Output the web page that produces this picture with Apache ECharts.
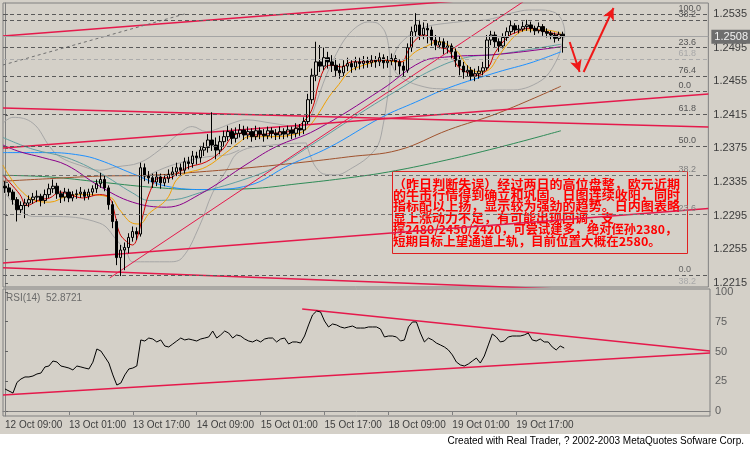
<!DOCTYPE html>
<html><head><meta charset="utf-8">
<script src="https://cdn.jsdelivr.net/npm/echarts@6/dist/echarts.min.js"></script>
<style>html,body{margin:0;padding:0;background:#fff}#c{width:750px;height:450px}</style>
</head><body><div id="c"></div>
<script>
// ---------------- data ----------------
const timeLabels = ['12 Oct 09:00','13 Oct 01:00','13 Oct 17:00','14 Oct 09:00','15 Oct 01:00','15 Oct 17:00','18 Oct 09:00','19 Oct 01:00','19 Oct 17:00'];
const labelStep = 16;
const totalBars = 177;

const opens = [1.2330,1.2328,1.2323,1.2314,1.2302,1.2307,1.2310,1.2314,1.2317,1.2318,
1.2313,1.2320,1.2327,1.2330,1.2321,1.2317,1.2323,1.2316,1.2320,1.2321,
1.2323,1.2318,1.2323,1.2327,1.2333,1.2338,1.2328,1.2308,1.2288,1.2245,
1.2254,1.2257,1.2269,1.2276,1.2273,1.2352,1.2342,1.2340,1.2335,1.2341,
1.2334,1.2339,1.2344,1.2347,1.2352,1.2349,1.2359,1.2357,1.2366,1.2364,
1.2373,1.2376,1.2385,1.2379,1.2373,1.2383,1.2389,1.2395,1.2387,1.2393,
1.2397,1.2391,1.2395,1.2389,1.2396,1.2392,1.2390,1.2396,1.2393,1.2391,
1.2395,1.2392,1.2397,1.2393,1.2399,1.2397,1.2407,1.2433,1.2462,1.2478,
1.2473,1.2483,1.2478,1.2474,1.2468,1.2465,1.2473,1.2476,1.2472,1.2478,
1.2476,1.2479,1.2477,1.2480,1.2478,1.2483,1.2477,1.2479,1.2482,1.2478,
1.2473,1.2468,1.2495,1.2514,1.2522,1.2510,1.2518,1.2516,1.2504,1.2498,
1.2502,1.2495,1.2497,1.2490,1.2480,1.2473,1.2466,1.2468,1.2461,1.2464,
1.2467,1.2471,1.2504,1.2510,1.2502,1.2497,1.2507,1.2514,1.2521,1.2516,
1.2517,1.2520,1.2522,1.2518,1.2515,1.2520,1.2514,1.2512,1.2510,1.2506,
1.2511];
const closes = [1.2328,1.2323,1.2314,1.2302,1.2307,1.2310,1.2314,1.2317,1.2318,1.2313,
1.2320,1.2327,1.2330,1.2321,1.2317,1.2323,1.2316,1.2320,1.2321,1.2323,
1.2318,1.2323,1.2327,1.2333,1.2338,1.2328,1.2308,1.2288,1.2245,1.2254,
1.2257,1.2269,1.2276,1.2273,1.2352,1.2342,1.2340,1.2335,1.2341,1.2334,
1.2339,1.2344,1.2347,1.2352,1.2349,1.2359,1.2357,1.2366,1.2364,1.2373,
1.2376,1.2385,1.2379,1.2373,1.2383,1.2389,1.2395,1.2387,1.2393,1.2397,
1.2391,1.2395,1.2389,1.2396,1.2392,1.2390,1.2396,1.2393,1.2391,1.2395,
1.2392,1.2397,1.2393,1.2399,1.2397,1.2407,1.2433,1.2462,1.2478,1.2473,
1.2483,1.2478,1.2474,1.2468,1.2465,1.2473,1.2476,1.2472,1.2478,1.2476,
1.2479,1.2477,1.2480,1.2478,1.2483,1.2477,1.2479,1.2482,1.2478,1.2473,
1.2468,1.2495,1.2514,1.2522,1.2510,1.2518,1.2516,1.2504,1.2498,1.2502,
1.2495,1.2497,1.2490,1.2480,1.2473,1.2466,1.2468,1.2461,1.2464,1.2467,
1.2471,1.2504,1.2510,1.2502,1.2497,1.2507,1.2514,1.2521,1.2516,1.2517,
1.2520,1.2522,1.2518,1.2515,1.2520,1.2514,1.2512,1.2510,1.2506,1.2511,
1.2508];
const lows = [1.2322,1.2318,1.2308,1.2288,1.2298,1.2292,1.2305,1.2309,1.2311,1.2306,
1.2309,1.2316,1.2322,1.2315,1.2310,1.2312,1.2311,1.2312,1.2315,1.2316,
1.2313,1.2314,1.2319,1.2322,1.2328,1.2324,1.2302,1.2280,1.2236,1.2223,
1.2230,1.2250,1.2264,1.2266,1.2270,1.2336,1.2333,1.2328,1.2330,1.2327,
1.2330,1.2334,1.2338,1.2342,1.2343,1.2345,1.2350,1.2352,1.2356,1.2358,
1.2366,1.2370,1.2372,1.2362,1.2368,1.2377,1.2384,1.2380,1.2382,1.2388,
1.2385,1.2386,1.2383,1.2385,1.2386,1.2383,1.2386,1.2387,1.2385,1.2386,
1.2386,1.2388,1.2386,1.2388,1.2390,1.2392,1.2404,1.2428,1.2455,1.2466,
1.2468,1.2470,1.2466,1.2460,1.2458,1.2461,1.2467,1.2465,1.2468,1.2469,
1.2470,1.2471,1.2472,1.2471,1.2473,1.2470,1.2471,1.2474,1.2468,1.2463,
1.2460,1.2465,1.2490,1.2508,1.2504,1.2505,1.2500,1.2497,1.2492,1.2494,
1.2487,1.2488,1.2482,1.2472,1.2462,1.2458,1.2460,1.2456,1.2455,1.2458,
1.2462,1.2468,1.2498,1.2495,1.2490,1.2494,1.2503,1.2510,1.2512,1.2512,
1.2514,1.2515,1.2513,1.2510,1.2512,1.2509,1.2507,1.2505,1.2501,1.2503,
1.2489];
const highs = [1.2336,1.2333,1.2326,1.2317,1.2312,1.2315,1.2319,1.2322,1.2325,1.2321,
1.2326,1.2333,1.2338,1.2334,1.2325,1.2328,1.2327,1.2324,1.2326,1.2329,
1.2326,1.2327,1.2331,1.2338,1.2346,1.2343,1.2331,1.2312,1.2291,1.2260,
1.2263,1.2274,1.2282,1.2281,1.2358,1.2357,1.2348,1.2345,1.2347,1.2345,
1.2344,1.2350,1.2353,1.2358,1.2357,1.2364,1.2365,1.2372,1.2371,1.2378,
1.2382,1.2392,1.2418,1.2388,1.2390,1.2396,1.2402,1.2399,1.2400,1.2404,
1.2402,1.2401,1.2399,1.2402,1.2400,1.2398,1.2401,1.2400,1.2398,1.2401,
1.2399,1.2402,1.2401,1.2405,1.2404,1.2412,1.2440,1.2470,1.2502,1.2498,
1.2495,1.2490,1.2486,1.2482,1.2476,1.2480,1.2483,1.2480,1.2484,1.2483,
1.2485,1.2484,1.2486,1.2485,1.2489,1.2487,1.2485,1.2488,1.2486,1.2481,
1.2478,1.2500,1.2520,1.2536,1.2528,1.2525,1.2524,1.2520,1.2510,1.2508,
1.2506,1.2503,1.2500,1.2494,1.2485,1.2478,1.2474,1.2472,1.2470,1.2473,
1.2478,1.2510,1.2515,1.2514,1.2506,1.2512,1.2519,1.2527,1.2524,1.2522,
1.2526,1.2528,1.2526,1.2521,1.2525,1.2523,1.2518,1.2515,1.2513,1.2514,
1.2514];

const rsiValues = [18.5,16.8,15.1,24,26.9,28.6,28.6,29.4,31.1,31.9,
37.0,37.8,42.0,41.2,37.8,37.0,36.1,34.5,37.8,37.0,
36.1,35.3,41,52.1,50.4,45.4,40.3,30.3,21.8,23.5,
30.3,35.3,36.1,37.8,59.7,58.8,61.3,60.5,58.0,59.7,
54.6,53.8,56.3,58.8,61.3,59.7,60.5,59.7,58.8,60.5,
61.3,62.2,67.2,61.3,63.9,67.2,65.5,61.3,63.9,63.0,
60.5,58.8,58.0,59.7,58.0,60.5,61.3,61.3,58.0,60.5,
61.3,56.3,58.0,58.0,57.1,63.0,72.3,80.7,84.0,83.2,
75.6,70.6,73.1,72.3,70.6,69.7,70.6,71.4,69.7,69.7,
69.7,70.6,70.6,70.6,68.9,62.2,63.0,63.0,62.2,58.8,
59.7,70.6,74.8,74.8,65.5,58.0,61.3,59.7,57.1,55.5,
53.8,51.3,47.1,41.2,38.7,37.8,39.5,42.0,44.5,40.3,
46.2,55.5,64.7,62.2,58.0,58.8,62.2,63.0,63.0,63.0,
63.9,65.5,59.7,58.8,60.5,58.0,58.0,53.8,51.3,54.6,
52.9];
const rsiText = 'RSI(14)  52.8721';

// moving averages: [bar position, price]
const maRed = [[-0.5,1.2343],[1.25,1.2334],[3.75,1.2320],[5.5,1.2307],[8.75,1.2314],[11.25,1.2316],[13.75,1.2323],[16.25,1.2320],[19.5,1.2316],[23.75,1.2320],[26.25,1.2316],[27.5,1.2298],[28.75,1.2274],[30.5,1.2264],[32,1.2260],[33,1.2266],[34.5,1.2293],[36.25,1.2322],[38.75,1.2340],[41.25,1.2340],[43.75,1.2347],[46.25,1.2353],[50.5,1.2359],[54.5,1.2373],[57,1.2389],[59.5,1.2393],[63,1.2391],[67,1.2393],[71.25,1.2395],[74.5,1.2405],[77,1.2421],[78.75,1.2453],[80.5,1.2472],[82,1.2474],[84.5,1.2472],[87,1.2478],[90.5,1.2478],[93.75,1.2480],[97,1.2480],[99.5,1.2478],[101.25,1.2492],[103,1.2504],[105,1.2510],[107,1.2506],[108.75,1.2496],[111.25,1.2492],[113.75,1.2472],[116.25,1.2465],[118.75,1.2462],[121.25,1.2471],[123,1.2489],[126.25,1.2508],[128.75,1.2514],[131.25,1.2518],[135.5,1.2514],[139.5,1.2510]];
const maOrange = [[-0.5,1.2355],[1.25,1.2341],[3.75,1.2326],[7,1.2314],[11.25,1.2311],[15.5,1.2318],[19.5,1.2320],[26.25,1.2317],[28.75,1.2302],[32,1.2286],[33.75,1.2285],[36.25,1.2298],[40.5,1.2314],[43.75,1.2341],[50.5,1.2353],[55.5,1.2370],[58.75,1.2382],[61.25,1.2389],[67,1.2389],[73.75,1.2393],[76.25,1.2401],[78.75,1.2417],[81.25,1.2436],[83.75,1.2451],[86.25,1.2466],[88.75,1.2472],[92,1.2477],[94.5,1.2480],[98.75,1.2478],[100.5,1.2480],[103,1.2490],[105.5,1.2496],[108.75,1.2502],[111.25,1.2498],[113.75,1.2489],[116.25,1.2472],[118.75,1.2466],[121.25,1.2468],[123.75,1.2484],[126.25,1.2500],[128.75,1.2512],[131.25,1.2516],[135.5,1.2516],[139.5,1.2512]];
const maPurple = [[-0.5,1.2379],[3.75,1.2371],[9.5,1.2364],[15.5,1.2355],[23.75,1.2330],[32,1.2311],[40.5,1.2305],[48.75,1.2320],[61.25,1.2358],[68,1.2377],[78,1.2397],[94.5,1.2445],[104.5,1.2478],[111.25,1.2484],[123.75,1.2487],[139.5,1.2496]];
const maTeal = [[-0.5,1.2388],[7,1.2374],[15.5,1.2364],[23.75,1.2346],[32,1.2322],[36.25,1.2313],[42.5,1.2314],[48.75,1.2322],[61.25,1.2340],[68.75,1.2355],[76.25,1.2377],[90.5,1.2421],[98.75,1.2445],[107,1.2468],[115.5,1.2483],[123.75,1.2487],[139.5,1.2499]];
const maBlue = [[-0.5,1.2370],[11.25,1.2370],[18.75,1.2367],[23.75,1.2361],[32,1.2345],[40.5,1.2330],[50.5,1.2326],[61.25,1.2331],[71.25,1.2355],[81.25,1.2376],[94.5,1.2412],[103,1.2430],[111.25,1.2447],[123.75,1.2466],[132,1.2477],[139.5,1.2490]];
const maBrown = [[-0.5,1.2336],[11.25,1.2339],[23.75,1.2342],[36.25,1.2343],[48.75,1.2347],[61.25,1.2352],[73.75,1.2358],[86.25,1.2365],[98.75,1.2373],[111.25,1.2397],[123.75,1.2417],[139.5,1.2449]];
const maGreen = [[-0.5,1.2343],[11.25,1.2341],[23.75,1.2335],[36.25,1.2329],[48.75,1.2326],[61.25,1.2327],[73.75,1.2333],[86.25,1.2340],[96.25,1.2347],[108.75,1.2359],[123.75,1.2376],[139.5,1.2396]];
// grey envelope curves: [bar position, price]
const bandUpper = [[-0.5,1.2405],[2,1.2412],[7,1.2405],[11.25,1.2377],[13.75,1.2365],[18.75,1.2355],[23.75,1.2349],[28,1.2353],[33.75,1.2358],[38.75,1.2373],[43.75,1.2393],[47,1.2401],[50.5,1.2395],[53.75,1.2399],[57,1.2405],[60.5,1.2409],[67,1.2405],[73.75,1.2401],[76.37,1.24065]];
const bandLower = [[-0.5,1.2326],[7,1.2294],[11.25,1.2294],[23.75,1.2286],[28,1.2266],[30.5,1.2251],[32,1.2240],[36.25,1.2240],[41.25,1.2240],[44.5,1.2245],[48.75,1.2282],[52.08,1.2322],[55.58,1.2349],[58.84,1.2371],[67.1,1.2379],[75.61,1.23815]];
const bandInner = [[33.8,1.23375],[38.81,1.23494],[43.82,1.23577],[50.58,1.23649],[55.58,1.23673],[58.84,1.23732]];
const loopFirst = [[76.37,1.24065],[78.37,1.24327],[80.37,1.24589],[82.62,1.24827],[85.13,1.25041],[87.88,1.25184],[90.89,1.25255],[93.39,1.25243],[95.39,1.25136],[96.4,1.24922],[96.65,1.24625],[95.89,1.24327],[94.89,1.2403],[93.64,1.23792],[90.89,1.23637],[87.13,1.23518],[83.38,1.23435],[79.87,1.23446],[77.62,1.23554],[76.12,1.23732],[75.61,1.23815]];
const loopSecond = [[96.9,1.24779],[98.9,1.24982],[102.65,1.25136],[106.41,1.25208],[111.42,1.25243],[116.42,1.25267],[120.68,1.25279],[123.94,1.25315],[127.19,1.25362],[131.45,1.25398],[134.7,1.25398],[138.21,1.25362],[139.71,1.25279],[140.46,1.25136],[139.71,1.24982],[138.71,1.24827],[135.7,1.24601],[131.45,1.24482],[127.69,1.24446],[123.94,1.24446],[118.93,1.24434],[114.67,1.24446],[110.17,1.24458],[106.41,1.2447],[101.4,1.24541],[98.15,1.24648],[96.9,1.24779]];

// hand-drawn objects: anchor values [bar position, price]
const channelUpper = [[-0.5,1.25089],[176.5,1.25736]];
const channelMiddle = [[-0.5,1.23756],[176.5,1.24398]];
const channelLower = [[-0.5,1.22387],[176.5,1.23035]];
const fallingUpper = [[-0.5,1.24232],[176.5,1.24006]];
const fallingLower = [[-0.5,1.22328],[176.5,1.22008]];
const steepSupport = [[26.3,1.22209],[138.96,1.25779]];
const fibBaseline = [[-0.5,1.24743],[45.07,1.2535]];
const arrowDown = [[141.7,1.25017],[144.2,1.2466]];
const arrowUp = [[145.2,1.2466],[152.7,1.25422]];
const rsiUpperLine = [[74.4,85.7],[176.5,50.4]];
const rsiLowerLine = [[-0.5,13.4],[176.5,48.7]];

const fibPrices = [1.2535,1.25279,1.2495,1.24815,1.24613,1.24434,1.2416,1.2378,1.23434,1.2297,1.22244,1.2210];
const fibTexts = ['100.0','38.2','23.6','61.8','76.4','0.0','61.8','50.0','38.2','23.6','0.0','38.2'];
const lastPrice = 1.2508;
const priceTicks = [1.2535,1.2495,1.2455,1.2415,1.2375,1.2335,1.2295,1.2255,1.2215];
const rsiTicks = [0,25,50,75,100];
const noteLines = ['（昨日判断失误）经过两日的高位盘整，欧元近期','的牛市行情得到确立和巩固。日图连续收阳，同时','指标配以上扬，显示较为强劲的趋势。日内图表略','显上涨动力不足，有可能出现回调，支','撑2480/2450/2420，可尝试建多，绝对侄孙2380，','短期目标上望通道上轨，目前位置大概在2580。'];
const footerText = 'Created with Real Trader, ? 2002-2003 MetaQuotes Sofware Corp.';

// ---------------- chart ----------------
const BG = '#D4D0C8';
const FONT = 'Liberation Sans';
const X0 = -0.5, X1 = 176.5;
const fibTone = ['#5A5A5A','#5A5A5A','#5A5A5A','#ABABAB','#5A5A5A','#5A5A5A','#5A5A5A','#5A5A5A','#707070','#707070','#5A5A5A','rgba(0,0,0,0)'];
const fibLabelColor = ['#555','#555','#555','#A8A8A8','#555','#555','#555','#555','#808080','#808080','#666','#A8A8A8'];
const noteScale = [1.087, 1.087, 1.087, 1.083, 1.02, 1.045];
const cats = Array.from({length: totalBars}, (_, i) =>
  (i % labelStep === 0 && i / labelStep < timeLabels.length) ? timeLabels[i / labelStep] : '');
const candleData = closes.map((c, i) => [opens[i], c, lows[i], highs[i]]);
const labelStart = 169.0;

const levelData = fibPrices.map((p, i) => [
  {coord: [X0, p], lineStyle: {color: fibTone[i], type: [4, 3], width: 1}, label: {show: false}},
  {coord: [X1, p]}
]);
levelData.push([
  {coord: [X0, lastPrice], lineStyle: {color: '#A4A4A4', type: 'solid', width: 1},
   label: {show: true, position: 'end', formatter: lastPrice.toFixed(4), distance: 3,
     backgroundColor: '#6E6E6E', color: '#F2F2F2', padding: [2, 3, 1, 3], fontSize: 11, fontFamily: FONT}},
  {coord: [X1, lastPrice]}
]);
const levelLabelData = fibPrices.map((p, i) => [
  {coord: [labelStart, p], lineStyle: {color: 'rgba(0,0,0,0)', width: 0},
   label: {show: true, position: 'insideStartTop', formatter: fibTexts[i], color: fibLabelColor[i],
     fontSize: 9, fontFamily: FONT, distance: [0, 1]}},
  {coord: [X1, p]}
]);

function lineSeries(name, data, color, width, extra) {
  return Object.assign({
    name, type: 'line', xAxisIndex: 2, yAxisIndex: 0, data, symbol: 'none', silent: true,
    lineStyle: {color, width}, z: 3
  }, extra || {});
}
const redTrend = '#E5194B';
const GREY = '#A6A6A6';

const noteTexts = noteLines.map((t, k) => ({
  type: 'text', x: 1, y: 7 + 11.4 * k, scaleX: noteScale[k],
  style: {text: t, fill: '#FF0000', font: 'bold 12px "Noto Sans CJK SC"'}
}));

const option = {
  animation: false,
  backgroundColor: BG,
  grid: [
    {left: 3, right: 40, top: 3, height: 284, show: true, borderColor: '#808080', borderWidth: 1, backgroundColor: 'transparent'},
    {left: 3, right: 40, top: 289, height: 127, show: true, borderColor: '#808080', borderWidth: 1, backgroundColor: 'transparent'}
  ],
  xAxis: [
    {type: 'category', gridIndex: 0, data: cats, boundaryGap: true, axisLine: {show: false}, axisTick: {show: false}, axisLabel: {show: false}, splitLine: {show: false}},
    {type: 'category', gridIndex: 1, data: cats, boundaryGap: true,
      axisLine: {show: true, lineStyle: {color: '#808080'}},
      axisTick: {show: true, alignWithLabel: true, interval: (i, v) => v !== '', length: 4, lineStyle: {color: '#808080'}},
      axisLabel: {show: true, interval: (i, v) => v !== '', align: 'left', color: '#404040', fontSize: 10, fontFamily: FONT, margin: 4},
      splitLine: {show: false}},
    {type: 'value', gridIndex: 0, min: X0, max: X1, show: false},
    {type: 'value', gridIndex: 1, min: X0, max: X1, show: false}
  ],
  yAxis: [
    {type: 'value', gridIndex: 0, position: 'right', min: 1.2210, max: 1.25481, scale: true,
      axisLine: {show: true, lineStyle: {color: '#808080'}},
      axisTick: {show: true, length: 3, customValues: priceTicks, lineStyle: {color: '#606060'}},
      axisLabel: {show: true, customValues: priceTicks, formatter: v => v.toFixed(4), color: '#3C3C3C', fontSize: 11, fontFamily: FONT, margin: 5},
      splitLine: {show: false}},
    {type: 'value', gridIndex: 1, position: 'right', min: -4.2, max: 102.5,
      axisLine: {show: true, lineStyle: {color: '#808080'}},
      axisTick: {show: true, length: 3, customValues: rsiTicks, lineStyle: {color: '#606060'}},
      axisLabel: {show: true, customValues: rsiTicks, color: '#606060', fontSize: 11, fontFamily: FONT, margin: 5},
      splitLine: {show: false}}
  ],
  series: [
    lineSeries('levels', [], '#5A5A5A', 1, {z: 1,
      markLine: {silent: true, symbol: ['none', 'none'], animation: false, data: levelData}}),
    lineSeries('levelLabels', [], '#5A5A5A', 1, {z: 2,
      markLine: {silent: true, symbol: ['none', 'none'], animation: false, data: levelLabelData}}),
    {name: 'price', type: 'candlestick', xAxisIndex: 0, yAxisIndex: 0, data: candleData, barWidth: 3, silent: true, z: 4,
      itemStyle: {color: 'rgba(0,0,0,0)', color0: '#000', borderColor: '#000', borderColor0: '#000', borderWidth: 1}},
    lineSeries('bandUpper', bandUpper, GREY, 1, {smooth: 0.4}),
    lineSeries('bandLower', bandLower, GREY, 1, {smooth: 0.4}),
    lineSeries('bandInner', bandInner, GREY, 1, {smooth: 0.4}),
    lineSeries('loopFirst', loopFirst, GREY, 1, {smooth: 0.3}),
    lineSeries('loopSecond', loopSecond, GREY, 1, {smooth: 0.3}),
    lineSeries('maGreen', maGreen, '#2E8B57', 1, {smooth: 0.4}),
    lineSeries('maBrown', maBrown, '#A0522D', 1, {smooth: 0.4}),
    lineSeries('maBlue', maBlue, '#1E90FF', 1, {smooth: 0.4}),
    lineSeries('maTeal', maTeal, '#5F9EA0', 1, {smooth: 0.4}),
    lineSeries('maPurple', maPurple, '#8B008B', 1, {smooth: 0.4}),
    lineSeries('maOrange', maOrange, '#F0A000', 1, {smooth: 0.4}),
    lineSeries('maRed', maRed, '#D00000', 1, {smooth: 0.4}),
    lineSeries('channelUpper', channelUpper, redTrend, 1.5),
    lineSeries('channelMiddle', channelMiddle, redTrend, 1.5),
    lineSeries('channelLower', channelLower, redTrend, 1.5),
    lineSeries('fallingUpper', fallingUpper, redTrend, 1.5),
    lineSeries('fallingLower', fallingLower, redTrend, 1.5),
    lineSeries('steepSupport', steepSupport, redTrend, 1),
    lineSeries('fibBaseline', fibBaseline, '#707070', 1, {lineStyle: {color: '#707070', width: 1, type: [3, 3]}}),
    lineSeries('arrows', [], '#F01818', 2, {
      markLine: {silent: true, animation: false, symbol: ['none', 'arrow'], symbolSize: [9, 12],
        lineStyle: {color: '#F01818', width: 2, type: 'solid'}, label: {show: false},
        data: [
          [{coord: arrowDown[0]}, {coord: arrowDown[1]}],
          [{coord: arrowUp[0]}, {coord: arrowUp[1]}]
        ]}}),
    {name: 'rsi', type: 'line', xAxisIndex: 1, yAxisIndex: 1, data: rsiValues, symbol: 'none', silent: true,
      lineStyle: {color: '#000', width: 1}, z: 4},
    {name: 'rsiUpper', type: 'line', xAxisIndex: 3, yAxisIndex: 1, data: rsiUpperLine, symbol: 'none', silent: true, lineStyle: {color: redTrend, width: 1.5}},
    {name: 'rsiLower', type: 'line', xAxisIndex: 3, yAxisIndex: 1, data: rsiLowerLine, symbol: 'none', silent: true, lineStyle: {color: redTrend, width: 1.5}}
  ],
  graphic: [
    {type: 'rect', left: 0, top: 434, shape: {width: 750, height: 16}, style: {fill: '#FFFFFF'}, silent: true},
    {type: 'text', right: 6, top: 436, style: {text: footerText, fill: '#000', font: '10px "Liberation Sans"'}},
    {type: 'text', left: 6, top: 293, style: {text: rsiText, fill: '#6A6A6A', font: '10px "Liberation Sans"'}},
    {type: 'group', left: 390, top: 169, children: [
      {type: 'rect', shape: {x: 0.5, y: 0.5, width: 295, height: 82}, style: {fill: 'none', stroke: '#E02020', lineWidth: 1}}
    ].concat(noteTexts)}
  ]
};
const chart = echarts.init(document.getElementById('c'), null, {renderer: 'canvas'});
chart.setOption(option);
</script>
</body></html>
